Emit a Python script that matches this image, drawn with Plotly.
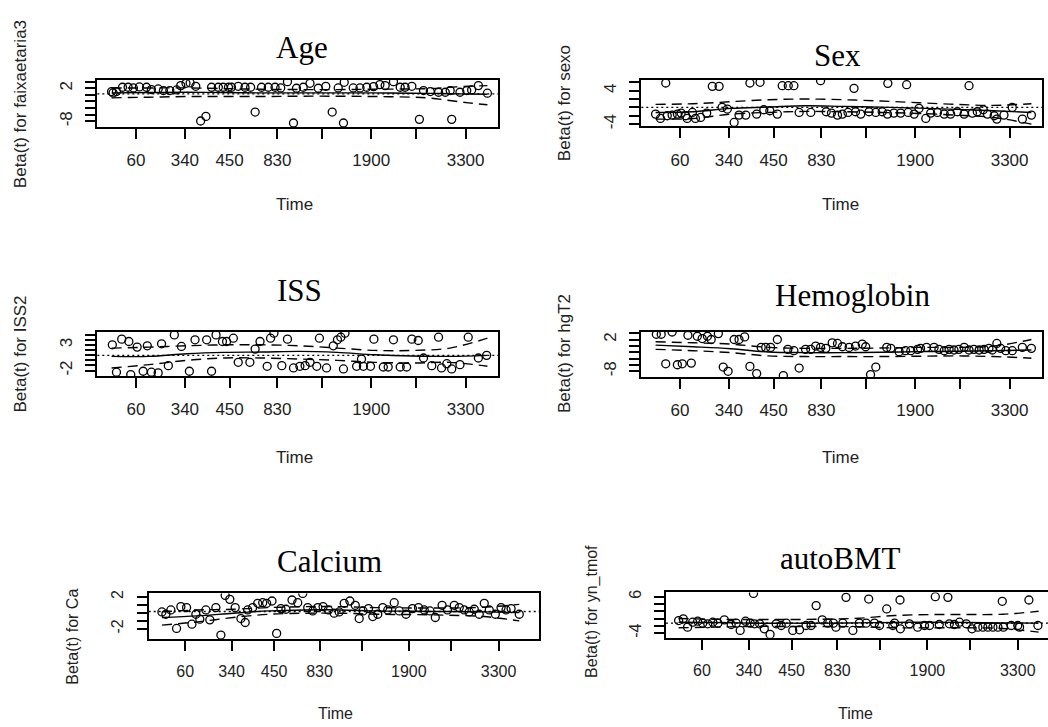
import plotly.graph_objects as go

# ---------------- shared x axis (KM-transformed time scale) ----------------
tick_pos = [0.065, 0.195, 0.314, 0.441, 0.560, 0.691, 0.810, 0.942]
tick_labels = ["60", "340", "450", "830", "", "1900", "", "3300"]

# ---------------- Age (faixaetaria3) ----------------
t_age = [0.000, 0.004, 0.013, 0.029, 0.044, 0.058, 0.074, 0.093, 0.106, 0.124, 0.138, 0.155, 0.173,
         0.184, 0.198, 0.209, 0.224, 0.237, 0.251, 0.266, 0.284, 0.297, 0.311, 0.319, 0.337, 0.355,
         0.370, 0.382, 0.399, 0.417, 0.435, 0.450, 0.468, 0.484, 0.492, 0.510, 0.528, 0.550, 0.570,
         0.587, 0.603, 0.617, 0.619, 0.643, 0.661, 0.679, 0.697, 0.714, 0.728, 0.750, 0.768, 0.781,
         0.799, 0.819, 0.830, 0.848, 0.870, 0.888, 0.901, 0.905, 0.927, 0.945, 0.958, 0.976, 1.000]
beta_age = [1.0, 0.6, 1.0, 2.3, 2.3, 2.1, 2.4, 2.3, 1.6, 1.8, 1.3, 1.3, 1.5,
            2.8, 3.5, 3.6, 2.6, -7.9, -6.5, 2.3, 2.3, 2.3, 2.3, 2.3, 2.6, 2.3,
            2.3, -5.2, 2.3, 2.3, 2.3, 2.1, 4.0, -8.5, 2.0, 2.3, 3.5, 2.0, 2.6,
            -5.2, 2.1, -8.5, 3.8, 2.1, 2.1, 2.3, 2.5, 3.1, 2.8, 4.0, 2.3, 2.3,
            2.6, -7.4, 1.3, 1.0, 0.8, 0.8, 1.3, -7.4, 0.8, 1.3, 1.5, 2.8, 0.5]
ts_age = [0, 0.1, 0.2, 0.3, 0.4, 0.5, 0.6, 0.7, 0.8, 0.85, 0.9, 0.95, 1.0]
fit_age = [0.6, 0.7, 0.8, 0.7, 0.6, 0.6, 0.6, 0.6, 0.5, 0.45, 0.35, 0.25, 0.2]
lo_age = [-0.9, -0.7, -0.5, -0.5, -0.5, -0.4, -0.4, -0.5, -0.7, -1.0, -1.7, -2.4, -3.0]
hi_age = [2.1, 2.1, 2.1, 1.9, 1.7, 1.6, 1.6, 1.7, 1.8, 1.9, 2.3, 2.6, 2.8]

# ---------------- Sex (sexo) ----------------
t_sex = [0.000, 0.013, 0.027, 0.031, 0.044, 0.058, 0.068, 0.080, 0.084, 0.098, 0.106, 0.120, 0.136,
         0.151, 0.169, 0.177, 0.191, 0.209, 0.222, 0.240, 0.251, 0.269, 0.278, 0.288, 0.304, 0.324,
         0.337, 0.353, 0.368, 0.382, 0.413, 0.439, 0.454, 0.468, 0.484, 0.497, 0.512, 0.528, 0.532,
         0.546, 0.568, 0.586, 0.603, 0.617, 0.618, 0.634, 0.652, 0.668, 0.672, 0.688, 0.701, 0.719,
         0.732, 0.750, 0.768, 0.785, 0.803, 0.821, 0.834, 0.843, 0.856, 0.872, 0.883, 0.901, 0.908,
         0.927, 0.949, 0.976, 1.000]
beta_sex = [-1.6, -2.64, 5.84, -2.0, -1.84, -1.6, -1.36, -2.0, -2.64, -1.2, -2.64, -2.4, -1.36,
            5.04, 5.04, 0.0, -0.4, -3.6, -1.84, -1.84, 5.84, -1.6, 6.0, -0.56, -0.8, -1.6,
            5.2, 5.2, 5.2, -1.2, -1.2, 6.4, -1.04, -1.36, -1.84, -1.6, -1.2, 4.56, -1.04,
            -1.6, -1.04, -1.2, -1.04, -1.6, 5.76, -1.36, -1.36, 5.44, -1.2, -1.6, -0.24, -2.64,
            -1.36, -1.2, -1.6, -1.6, -1.04, -1.6, 5.2, -1.36, -1.04, -0.56, -1.6, -2.0, -2.8,
            -1.84, 0.0, -2.8, -1.84]
ts_sex = [0, 0.1, 0.2, 0.3, 0.4, 0.5, 0.6, 0.7, 0.8, 0.9, 1.0]
fit_sex = [-1.2, -1.04, -0.24, 0.08, 0.4, 0.24, 0.08, -0.16, -0.48, -0.8, -1.2]
lo_sex = [-2.8, -2.64, -1.6, -1.2, -0.96, -1.04, -1.2, -1.44, -1.84, -2.4, -4.0]
hi_sex = [0.72, 0.88, 1.36, 1.84, 2.0, 1.84, 1.52, 1.12, 0.72, 0.48, 0.88]

# ---------------- ISS (ISS2) ----------------
t_iss = [0.002, 0.013, 0.027, 0.046, 0.051, 0.068, 0.084, 0.095, 0.106, 0.124, 0.133, 0.151, 0.167,
         0.186, 0.207, 0.222, 0.253, 0.266, 0.278, 0.295, 0.306, 0.324, 0.337, 0.368, 0.382, 0.395,
         0.414, 0.423, 0.432, 0.453, 0.468, 0.484, 0.501, 0.515, 0.528, 0.546, 0.553, 0.572, 0.590,
         0.601, 0.610, 0.617, 0.621, 0.652, 0.665, 0.670, 0.689, 0.698, 0.723, 0.736, 0.750, 0.768,
         0.785, 0.799, 0.816, 0.830, 0.852, 0.870, 0.878, 0.892, 0.905, 0.927, 0.949, 0.976, 0.998]
beta_iss = [3.06, -2.32, 4.17, 3.71, -2.78, 2.61, -2.13, 2.87, -2.32, -2.45, 3.26, -1.03, 5.01,
            2.74, -2.13, 4.04, 4.04, -2.13, 5.01, 3.71, 3.71, 4.36, -0.38, -0.38, 2.22, 3.71,
            -1.16, 4.36, 5.34, -1.03, 4.17, -1.48, -1.16, -1.03, -0.38, -1.16, 4.36, -1.48, 2.87,
            4.04, 4.56, -1.68, 5.34, -1.16, 0.27, -1.16, -1.16, 4.17, -1.29, -1.29, 4.04, -1.29,
            -1.29, 4.17, 3.91, 0.47, -1.03, 4.56, -1.48, -0.64, -1.68, -0.83, 4.56, 0.47, 0.99]
ts_iss = [0, 0.1, 0.2, 0.3, 0.4, 0.5, 0.6, 0.7, 0.8, 0.9, 1.0]
fit_iss = [0.79, 0.79, 1.31, 1.57, 1.64, 1.77, 1.57, 1.12, 0.86, 0.79, 0.99]
lo_iss = [-1.48, -0.83, 0.01, 0.47, 0.47, 0.27, 0.01, -0.38, -0.51, -0.38, -1.16]
hi_iss = [2.42, 2.61, 2.87, 3.06, 3.06, 2.87, 2.42, 1.96, 1.96, 2.42, 4.36]

# ---------------- Hemoglobin (hgT2) ----------------
t_hgb = [0.002, 0.015, 0.027, 0.044, 0.058, 0.071, 0.086, 0.095, 0.111, 0.124, 0.138, 0.148, 0.167,
         0.180, 0.193, 0.209, 0.222, 0.237, 0.251, 0.269, 0.281, 0.293, 0.306, 0.324, 0.340, 0.352,
         0.368, 0.382, 0.399, 0.413, 0.426, 0.439, 0.453, 0.470, 0.484, 0.497, 0.515, 0.532, 0.550,
         0.559, 0.572, 0.586, 0.615, 0.626, 0.648, 0.665, 0.679, 0.697, 0.705, 0.721, 0.741, 0.754,
         0.768, 0.781, 0.794, 0.807, 0.821, 0.834, 0.847, 0.861, 0.874, 0.887, 0.896, 0.908, 0.918,
         0.932, 0.949, 0.976, 1.000]
beta_hgb = [3.65, 3.65, -5.63, 4.37, -5.94, -5.63, 3.34, -5.42, 3.03, 2.31, 3.03, 2.0, 3.86,
            -6.66, -8.0, 2.0, 2.0, 2.82, -6.45, -8.72, -0.47, -0.47, -0.47, 2.0, -9.34, -1.09,
            -1.51, -6.97, -1.09, -1.09, -0.06, -0.47, -0.78, 0.97, 0.76, -0.27, -0.47, -0.06, 0.56,
            -0.27, -9.03, -6.66, -0.47, -0.78, -1.81, -1.51, -1.51, -1.09, -0.78, -0.47, -0.47, -1.09,
            -1.51, -1.09, -1.30, -1.09, -0.47, -1.30, -1.09, -1.30, -1.09, -0.78, -1.30, 0.76, -0.78,
            -1.51, -1.51, -0.47, -0.78]
ts_hgb = [0, 0.1, 0.2, 0.3, 0.4, 0.5, 0.6, 0.7, 0.8, 0.9, 1.0]
fit_hgb = [0.25, -0.27, -0.89, -1.92, -2.12, -2.12, -2.02, -1.81, -1.71, -1.51, -1.30]
lo_hgb = [-1.09, -1.51, -2.12, -3.15, -3.36, -3.36, -3.36, -3.26, -3.15, -3.36, -3.88]
hi_hgb = [1.28, 0.97, 0.56, -0.47, -0.78, -0.78, -0.68, -0.47, -0.47, -0.06, 2.0]

# ---------------- Calcium (Ca) ----------------
t_ca = [0.000, 0.011, 0.025, 0.041, 0.053, 0.069, 0.084, 0.095, 0.106, 0.123, 0.134, 0.151, 0.165,
        0.177, 0.190, 0.205, 0.221, 0.233, 0.240, 0.254, 0.268, 0.282, 0.293, 0.308, 0.321, 0.333,
        0.347, 0.364, 0.380, 0.394, 0.408, 0.422, 0.436, 0.451, 0.466, 0.482, 0.496, 0.510, 0.526,
        0.541, 0.552, 0.563, 0.578, 0.590, 0.604, 0.618, 0.632, 0.650, 0.664, 0.683, 0.701, 0.718,
        0.734, 0.750, 0.765, 0.784, 0.799, 0.818, 0.832, 0.846, 0.860, 0.874, 0.888, 0.902, 0.916,
        0.933, 0.949, 0.963, 0.977, 1.000]
beta_ca = [0.125, -0.17, 0.375, -1.96, 0.79, 0.67, -1.42, -0.17, -0.79, 0.375, -0.875, 0.67, -2.79,
           2.21, 1.71, 0.67, -0.71, -1.21, 0.375, 0.67, 1.21, 1.29, 1.21, 1.5, -2.58, 0.54,
           0.46, 1.625, 1.29, 2.46, 0.67, 0.25, 0.67, 0.79, 0.375, -0.04, 0.125, 1.21, 1.5,
           0.96, -0.71, 0.25, 0.54, -0.46, -0.17, 0.67, 0.375, 1.29, 0.25, -0.17, 0.54, 0.67,
           0.375, 0.25, -0.58, 0.96, 0.375, 0.96, 0.67, 0.375, 0.125, 0.46, -0.17, 1.21, 0.375,
           -0.17, 0.67, 0.375, 0.54, -0.17]
ts_ca = [0, 0.1, 0.2, 0.3, 0.4, 0.5, 0.6, 0.7, 0.8, 0.9, 1.0]
fit_ca = [-0.58, -0.375, -0.04, 0.25, 0.375, 0.375, 0.25, 0.21, 0.17, 0.125, 0.04]
lo_ca = [-1.54, -1.125, -0.58, -0.17, -0.04, -0.04, -0.17, -0.21, -0.29, -0.46, -1.0]
hi_ca = [0.125, 0.375, 0.46, 0.67, 0.79, 0.79, 0.67, 0.625, 0.625, 0.71, 1.08]

# ---------------- autoBMT (yn_tmof) ----------------
t_bmt = [0.000, 0.013, 0.025, 0.039, 0.053, 0.067, 0.081, 0.095, 0.109, 0.127, 0.146, 0.160, 0.171,
         0.186, 0.199, 0.208, 0.211, 0.225, 0.238, 0.254, 0.271, 0.285, 0.299, 0.317, 0.336, 0.354,
         0.368, 0.382, 0.399, 0.414, 0.430, 0.437, 0.456, 0.465, 0.484, 0.502, 0.521, 0.528, 0.544,
         0.558, 0.578, 0.595, 0.600, 0.615, 0.616, 0.641, 0.664, 0.683, 0.697, 0.713, 0.724, 0.748,
         0.752, 0.766, 0.780, 0.799, 0.815, 0.831, 0.845, 0.859, 0.873, 0.887, 0.899, 0.902, 0.924,
         0.942, 0.947, 0.973, 0.998]
beta_bmt = [-0.55, -0.09, -2.36, -1.0, -0.73, -1.27, -1.45, -1.0, -1.27, -0.36, -1.64, -1.27, -3.27,
            -0.73, -1.27, 6.9, -1.45, -1.45, -2.82, -4.36, -1.45, -1.91, -1.27, -3.27, -3.09, -1.91,
            -1.91, 3.55, -0.36, -1.27, -1.27, -2.36, -1.27, 5.82, -3.27, -1.27, -1.27, 5.36, -1.27,
            -1.91, 2.64, -1.91, -1.27, 5.09, -2.82, -1.45, -2.36, -1.91, -1.91, 6.0, -1.64, 5.82,
            -1.45, -1.64, -1.0, -1.45, -2.82, -2.36, -2.36, -2.36, -2.36, -2.36, 4.73, -2.36, -1.91,
            -1.91, -2.36, 5.09, -1.91]
ts_bmt = [0, 0.1, 0.2, 0.3, 0.4, 0.5, 0.6, 0.7, 0.8, 0.9, 1.0]
fit_bmt = [-1.0, -1.09, -1.27, -1.27, -1.27, -1.18, -1.09, -1.0, -1.09, -1.18, -1.27]
lo_bmt = [-2.55, -2.36, -2.18, -2.18, -2.18, -2.27, -2.55, -2.55, -2.55, -2.73, -3.73]
hi_bmt = [0.0, -0.18, -0.27, -0.27, -0.18, 0.09, 0.82, 1.09, 1.09, 1.18, 2.0]

titles = ["Age", "Sex", "ISS", "Hemoglobin", "Calcium", "autoBMT"]
ylabels = ["Beta(t) for faixaetaria3", "Beta(t) for sexo", "Beta(t) for ISS2",
           "Beta(t) for hgT2", "Beta(t) for Ca", "Beta(t) for yn_tmof"]
ref_lines = [0.3, 0.0, 0.99, None, 0.17, -1.27]
y_ticks = [[4, 2, 0, -2, -4, -6, -8], [6, 4, 2, 0, -2, -4], [5, 4, 3, 2, 1, 0, -1, -2],
           [4, 2, 0, -2, -4, -6, -8], [2, 1, 0, -1, -2], [6, 4, 2, 0, -2, -4]]
y_labelled = [[2, -8], [4, -4], [3, -2], [2, -8], [2, -2], [6, -4]]

series = [
    (t_age, beta_age, ts_age, fit_age, lo_age, hi_age),
    (t_sex, beta_sex, ts_sex, fit_sex, lo_sex, hi_sex),
    (t_iss, beta_iss, ts_iss, fit_iss, lo_iss, hi_iss),
    (t_hgb, beta_hgb, ts_hgb, fit_hgb, lo_hgb, hi_hgb),
    (t_ca, beta_ca, ts_ca, fit_ca, lo_ca, hi_ca),
    (t_bmt, beta_bmt, ts_bmt, fit_bmt, lo_bmt, hi_bmt),
]

# ---------------- layout geometry (pixels in a 1048x727 canvas) ----------------
W, H = 1048, 727
boxes = [(97.3, 77.3, 498.3, 125.0), (641.3, 77.3, 1042.3, 124.5),
         (97.3, 331.3, 498.3, 376.3), (641.3, 331.3, 1042.3, 377.0),
         (148.7, 595.3, 539.3, 641.3), (666.0, 594.3, 1048.0, 640.0)]
x_ranges = [(-0.038, 1.029), (-0.038, 1.029), (-0.038, 1.029), (-0.038, 1.029),
            (-0.037, 1.056), (-0.035, 1.026)]
y_ranges = [(-9.7, 4.6), (-4.56, 6.64), (-3.1, 5.66), (-9.75, 4.5), (-3.29, 2.46), (-5.27, 7.18)]
title_pos = [(302, 45), (837, 53), (299, 290), (852, 295), (329, 563), (840, 560)]
ylab_pos = [(20.5, 102.5), (564, 101), (20.5, 354), (564, 354), (73, 639), (592, 614)]
time_pos = [(294, 203), (840, 203), (294, 458), (840, 458), (335, 716), (855, 716)]
font_sz = [17, 17, 17, 17, 16, 16]

fig = go.Figure()
annotations = []
shapes = []
BLACK = "black"

for i in range(6):
    n = i + 1
    xa = "x" if n == 1 else f"x{n}"
    ya = "y" if n == 1 else f"y{n}"
    t, b, ts, fit, lo, hi = series[i]
    fig.add_trace(go.Scatter(x=t, y=b, mode="markers", xaxis=xa, yaxis=ya,
                             marker=dict(symbol="circle-open", size=8, color=BLACK,
                                         line=dict(width=1.3, color=BLACK)),
                             showlegend=False, cliponaxis=True))
    fig.add_trace(go.Scatter(x=ts, y=fit, mode="lines", xaxis=xa, yaxis=ya,
                             line=dict(color=BLACK, width=1.4, shape="spline"), showlegend=False))
    for band in (lo, hi):
        fig.add_trace(go.Scatter(x=ts, y=band, mode="lines", xaxis=xa, yaxis=ya,
                                 line=dict(color=BLACK, width=1.4, dash="10px,6px", shape="spline"),
                                 showlegend=False))
    x0, y0, x1, y1 = boxes[i]
    key = "" if n == 1 else str(n)
    fs = font_sz[i]
    fig.layout["xaxis" + key] = dict(
        domain=[x0 / W, min(x1 / W, 1.0)], range=list(x_ranges[i]), anchor=ya,
        tickmode="array", tickvals=tick_pos, ticktext=tick_labels,
        ticks="outside", ticklen=10, tickwidth=1.7, tickcolor=BLACK,
        showline=True, mirror=True, linecolor=BLACK, linewidth=1.8,
        showgrid=False, zeroline=False, ticklabelstandoff=7,
        tickfont=dict(family="Liberation Sans, Arial", size=fs, color="#222"))
    yv = y_ticks[i]
    fig.layout["yaxis" + key] = dict(
        domain=[1 - y1 / H, 1 - y0 / H], range=list(y_ranges[i]), anchor=xa,
        tickmode="array", tickvals=yv,
        ticktext=[(str(v) if v in y_labelled[i] else "") for v in yv],
        ticks="outside", ticklen=10, tickwidth=1.7, tickcolor=BLACK, tickangle=-90,
        showline=True, mirror=(i != 5), linecolor=BLACK, linewidth=1.8,
        showgrid=False, zeroline=False, ticklabelstandoff=7,
        tickfont=dict(family="Liberation Sans, Arial", size=fs, color="#222"))
    if ref_lines[i] is not None:
        shapes.append(dict(type="line", xref=f"{xa} domain", yref=ya, x0=0, x1=1,
                           y0=ref_lines[i], y1=ref_lines[i],
                           line=dict(color=BLACK, width=1.4, dash="2px,3px")))
    tx, ty = title_pos[i]
    annotations.append(dict(text=titles[i], x=tx / W, y=1 - ty / H, xref="paper", yref="paper",
                            showarrow=False, xanchor="center", yanchor="middle",
                            font=dict(family="Liberation Serif, Times New Roman", size=31,
                                      color=BLACK, weight="normal")))
    lx, ly = ylab_pos[i]
    annotations.append(dict(text=ylabels[i], x=lx / W, y=1 - ly / H, xref="paper", yref="paper",
                            showarrow=False, xanchor="center", yanchor="middle", textangle=-90,
                            font=dict(family="Liberation Sans, Arial", size=fs, color="#222")))
    mx, my = time_pos[i]
    annotations.append(dict(text="Time", x=mx / W, y=1 - my / H, xref="paper", yref="paper",
                            showarrow=False, xanchor="center", yanchor="middle",
                            font=dict(family="Liberation Sans, Arial", size=fs, color="#222")))

fig.update_layout(width=W, height=H, margin=dict(l=0, r=0, t=0, b=0),
                  paper_bgcolor="white", plot_bgcolor="white",
                  annotations=annotations, shapes=shapes, showlegend=False)

fig.write_html("out.html")
